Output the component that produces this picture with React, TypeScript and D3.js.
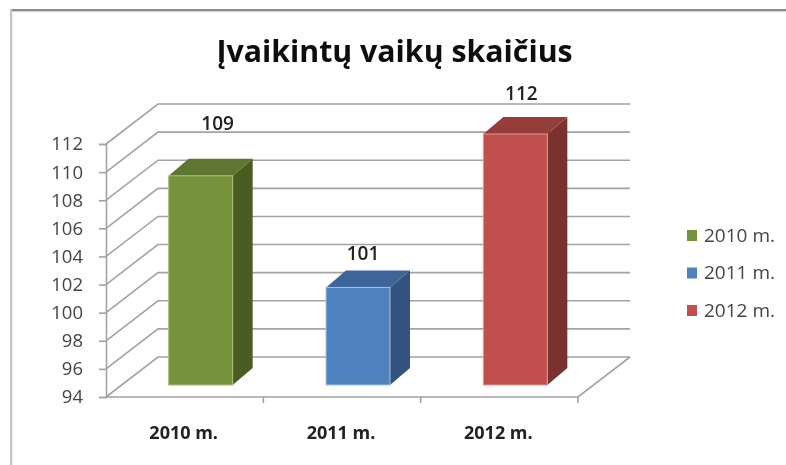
import React, { useEffect, useRef } from "react";
import * as d3 from "d3";

const title = "Įvaikintų vaikų skaičius";
const categories = ["2010 m.", "2011 m.", "2012 m."];
const values = [109, 101, 112];
const yTicks = [94, 96, 98, 100, 102, 104, 106, 108, 110, 112];
const frontColors = ["#76923c", "#4f81bd", "#c0504d"];
const topColors = ["#5e7530", "#3d659a", "#943c3a"];
const sideColors = ["#4a5d24", "#30527d", "#7a302e"];
const edgeColors = ["#a9bd78", "#a9c3e3", "#e09a98"];

const FONT = "'Open Sans', 'Noto Sans', sans-serif";

const App = () => {
  const svgRef = useRef<SVGSVGElement>(null);

  useEffect(() => {
    const svg = d3.select(svgRef.current);
    svg.selectAll("*").remove();

    const depth = { x: 52, y: -40 };
    const barDepth = { x: 20, y: -17 };
    const barWidth = 64;
    const barOffset = 16;
    // the data labels were placed by hand in the original, offset from each bar
    const labelDx = [17, 5, 6];
    const labelDy = [-52, -34, -41];

    const x = d3.scaleBand().domain(categories).range([106, 578]);
    const y = d3.scaleLinear().domain([94, 112]).range([397, 144]);
    // bars stand a bit inside the floor, so they have their own baseline
    const yBar = d3.scaleLinear().domain([94, 112]).range([385, 134]);

    const defs = svg.append("defs");
    defs.append("filter").attr("id", "soft").append("feGaussianBlur").attr("stdDeviation", 0.5);

    const root = svg.append("g").attr("filter", "url(#soft)");

    root.append("rect").attr("width", 786).attr("height", 465).attr("fill", "#fff");
    root.append("rect").attr("x", 10).attr("y", 9).attr("width", 776).attr("height", 2.4).attr("fill", "#8c8c8c");
    root.append("rect").attr("x", 10).attr("y", 9).attr("width", 2.2).attr("height", 456).attr("fill", "#c4c4c4");

    root.append("text")
      .attr("x", 394.5)
      .attr("y", 62)
      .attr("text-anchor", "middle")
      .attr("font-family", FONT)
      .attr("font-size", 30.3)
      .attr("font-weight", 700)
      .attr("fill", "#111")
      .text(title);

    // walls: slanted part plus the back line
    const grid = root.append("g").attr("fill", "none").attr("stroke", "#a3a3a3").attr("stroke-width", 1.6);
    yTicks.forEach(t => {
      const y0 = y(t);
      const path = d3.path();
      path.moveTo(x.range()[0], y0);
      path.lineTo(x.range()[0] + depth.x, y0 + depth.y);
      path.lineTo(x.range()[1] + depth.x, y0 + depth.y);
      grid.append("path").attr("d", path.toString());
    });

    // floor front and right edges
    const floor = d3.path();
    floor.moveTo(x.range()[0], y(94));
    floor.lineTo(x.range()[1], y(94));
    floor.lineTo(x.range()[1] + depth.x, y(94) + depth.y);
    grid.append("path").attr("d", floor.toString());

    const yAxis = d3.axisLeft(y).tickValues(yTicks).tickSize(7).tickPadding(16);
    const yAxisG = root.append("g").attr("transform", `translate(${x.range()[0]},0)`).call(yAxis);
    yAxisG.selectAll("path").attr("stroke", "#a3a3a3").attr("stroke-width", 1.6);
    yAxisG.selectAll("line").attr("stroke", "#a3a3a3").attr("stroke-width", 1.6);
    yAxisG.selectAll("line").attr("x2", -7);
    yAxisG.selectAll("text")
      .attr("x", -23)
      .attr("font-family", FONT)
      .attr("font-size", 18.5)
      .attr("fill", "#444");

    const xAxis = d3.axisBottom(x).tickSize(0).tickPadding(29);
    const xAxisG = root.append("g").attr("transform", `translate(-1,${y(94)})`).call(xAxis);
    xAxisG.select("path").remove();
    xAxisG.selectAll("text")
      .attr("font-family", FONT)
      .attr("font-size", 18)
      .attr("font-weight", 700)
      .attr("fill", "#222");

    // little ticks between the categories
    root.append("g")
      .selectAll("line")
      .data(categories)
      .join("line")
      .attr("x1", d => x(d)! + x.bandwidth())
      .attr("x2", d => x(d)! + x.bandwidth())
      .attr("y1", y(94))
      .attr("y2", y(94) + 6)
      .attr("stroke", "#a3a3a3")
      .attr("stroke-width", 1.6);

    categories.forEach((c, i) => {
      const x0 = x(c)! + x.bandwidth() / 2 + barOffset - barWidth / 2;
      const x1 = x0 + barWidth;
      const top = yBar(values[i]);
      const bottom = yBar(94);
      const g = root.append("g");

      g.append("path")
        .attr("d", d3.line()([
          [x1, top],
          [x1 + barDepth.x, top + barDepth.y],
          [x1 + barDepth.x, bottom + barDepth.y],
          [x1, bottom],
        ]) + "Z")
        .attr("fill", sideColors[i]);
      g.append("path")
        .attr("d", d3.line()([
          [x0, top],
          [x0 + barDepth.x, top + barDepth.y],
          [x1 + barDepth.x, top + barDepth.y],
          [x1, top],
        ]) + "Z")
        .attr("fill", topColors[i]);
      g.append("rect")
        .attr("x", x0)
        .attr("y", top)
        .attr("width", barWidth)
        .attr("height", bottom - top)
        .attr("fill", frontColors[i])
        .attr("stroke", edgeColors[i])
        .attr("stroke-width", 1);

      root.append("text")
        .attr("x", x0 + barWidth / 2 + labelDx[i])
        .attr("y", top + labelDy[i])
        .attr("dy", "0.35em")
        .attr("text-anchor", "middle")
        .attr("font-family", FONT)
        .attr("font-size", 19)
        .attr("font-weight", 600)
        .attr("fill", "#222")
        .text(values[i]);
    });

    const legendY = d3.scalePoint().domain(categories).range([235, 310]);
    const legend = root.append("g")
      .selectAll("g")
      .data(categories)
      .join("g")
      .attr("transform", d => `translate(687,${legendY(d)})`);
    legend.append("rect")
      .attr("y", -5)
      .attr("width", 10)
      .attr("height", 11)
      .attr("fill", (d, i) => frontColors[i]);
    legend.append("text")
      .attr("x", 17)
      .attr("y", 0)
      .attr("dy", "0.35em")
      .attr("font-family", FONT)
      .attr("font-size", 19)
      .attr("fill", "#444")
      .text(d => d);
  }, []);

  return (
    <svg
      ref={svgRef}
      width={786}
      height={465}
      viewBox="0 0 786 465"
      style={{ position: "absolute", left: 0, top: 0, display: "block" }}
    />
  );
};

export default App;
